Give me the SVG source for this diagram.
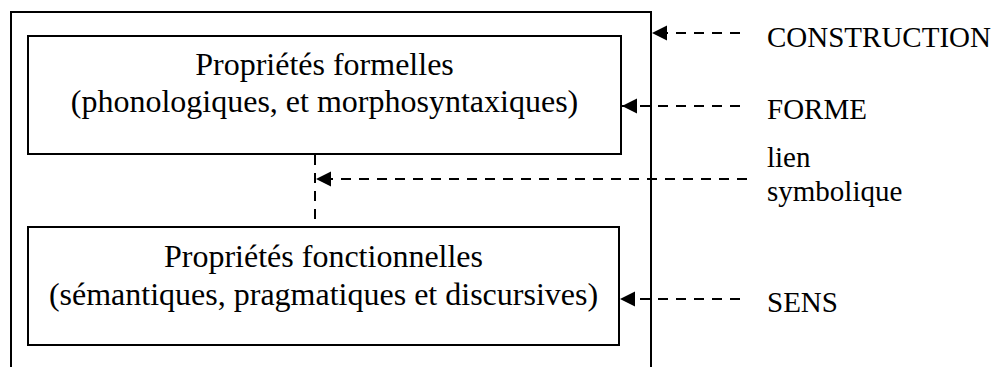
<svg xmlns="http://www.w3.org/2000/svg" width="995" height="367" viewBox="0 0 995 367">
<style>
.box{fill:#fff;stroke:#000;stroke-width:2}
.frame{fill:none;stroke:#000;stroke-width:2}
.t{font-family:"Liberation Serif","Times New Roman",serif;font-size:32px;fill:#000;text-anchor:middle}
.l{font-family:"Liberation Serif","Times New Roman",serif;font-size:29px;fill:#000}
.d{fill:none;stroke:#000;stroke-width:2;stroke-dasharray:10 8}
</style>
<defs>
<marker id="ah" markerUnits="userSpaceOnUse" markerWidth="16" markerHeight="16" refX="15" refY="7.5" orient="auto" viewBox="0 0 16 16">
<path d="M0,0 L15,7.5 L0,15 Z" fill="#000"/>
</marker>
</defs>
<g id="construction">
<path class="frame" d="M11,367 V12 H651 V367"/>
</g>
<g id="forme">
<rect class="box" x="28" y="36" width="593" height="118"/>
<text class="t" x="324.5" y="75">Propriétés formelles</text>
<text class="t" x="324.5" y="112">(phonologiques, et morphosyntaxiques)</text>
</g>
<g id="sens">
<rect class="box" x="28" y="227" width="591" height="118"/>
<text class="t" x="323.5" y="267">Propriétés fonctionnelles</text>
<text class="t" x="323.5" y="305">(sémantiques, pragmatiques et discursives)</text>
</g>
<g id="labels">
<text class="l" x="767" y="47">CONSTRUCTION</text>
<text class="l" x="767" y="119">FORME</text>
<text class="l" x="767" y="167">lien</text>
<text class="l" x="767" y="201">symbolique</text>
<text class="l" x="767" y="312">SENS</text>
</g>
<g id="connectors">
<path class="d" d="M315,155 V227"/>
<path class="d" d="M740,33 H652" marker-end="url(#ah)"/>
<path class="d" d="M740,106 H622" marker-end="url(#ah)"/>
<path class="d" d="M747,179 H316" marker-end="url(#ah)"/>
<path class="d" d="M740,299 H620" marker-end="url(#ah)"/>
</g>
</svg>
